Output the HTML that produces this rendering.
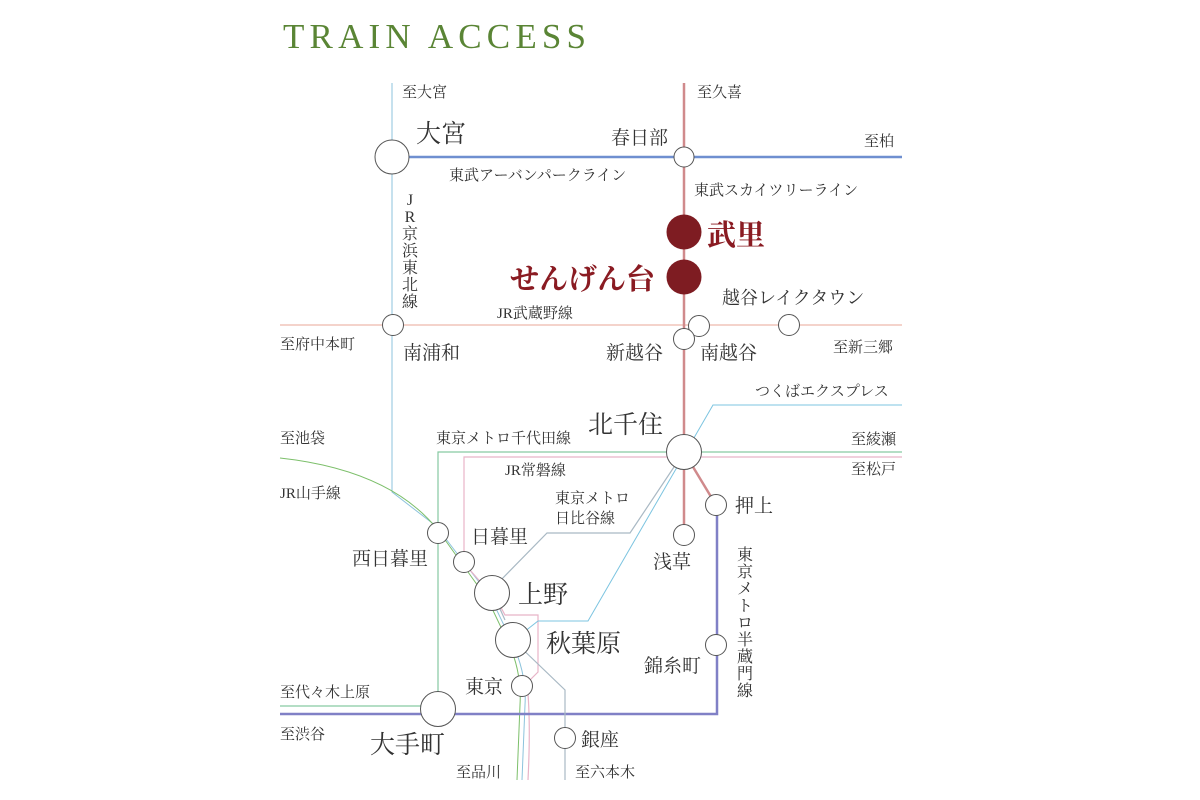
<!DOCTYPE html>
<html><head><meta charset="utf-8"><style>
html,body{margin:0;padding:0;background:#fff;}
svg{display:block;}
text{font-family:"Liberation Serif","Noto Serif CJK SC","Noto Sans CJK JP",serif;fill:#333;}
</style></head><body>
<svg width="1200" height="800" viewBox="0 0 1200 800" xmlns="http://www.w3.org/2000/svg">
<text x="283" y="48" font-size="35" style="fill:#5a8535" textLength="303" lengthAdjust="spacing">TRAIN ACCESS</text>

<g fill="none">
<line x1="280" y1="325" x2="902" y2="325" stroke="#f4d3cb" stroke-width="2"/>
<path d="M392,83 L392,492 L436,526 L462,560 L490,596 L512,642 Q527,675 525,705 L522,780" stroke="#8cc3dc" stroke-width="1"/>
<path d="M280,458 Q390,470 438,530 L463,565 L488,600 L508,642 Q522,672 520,705 L517,780" stroke="#7cbf6a" stroke-width="1"/>
<path d="M902,457 L464,457 L464,560 L470,570 L498,602 L505,615 L538,615 L538,672 L527,683 Q531,720 528,780" stroke="#e8b4c8" stroke-width="1.2"/>
<path d="M902,452 L438,452 L438,706 L280,706" stroke="#86c9a2" stroke-width="1.2"/>
<path d="M280,714 L717,714 L717,505" stroke="#8080c6" stroke-width="2.5"/>
<path d="M902,405 L713,405 L588,621 L538,621 L524,632" stroke="#7cc4e0" stroke-width="1"/>
<path d="M684,452 L630,533 L547,533 L496,585 M496,600 L505,620 M513,640 L565,690 L565,780" stroke="#a9b9c4" stroke-width="1.2"/>
<line x1="392" y1="157" x2="902" y2="157" stroke="#6f8fd0" stroke-width="2.5"/>
<path d="M684,83 L684,535 M684,452 L716,505" stroke="#d08a8c" stroke-width="2.5"/>
</g>

<g fill="#fff" stroke="#555" stroke-width="1">
<circle cx="392" cy="157" r="17"/>
<circle cx="684" cy="157" r="10"/>
<circle cx="393" cy="325" r="10.5"/>
<circle cx="699" cy="326" r="10.5"/>
<circle cx="684" cy="339" r="10.5"/>
<circle cx="789" cy="325" r="10.5"/>
<circle cx="684" cy="452" r="17.5"/>
<circle cx="716" cy="505" r="10.5"/>
<circle cx="684" cy="535" r="10.5"/>
<circle cx="438" cy="533" r="10.5"/>
<circle cx="464" cy="562" r="10.5"/>
<circle cx="492" cy="593" r="17.5"/>
<circle cx="513" cy="640" r="17.5"/>
<circle cx="522" cy="686" r="10.5"/>
<circle cx="716" cy="645" r="10.5"/>
<circle cx="438" cy="709" r="17.5"/>
<circle cx="565" cy="738" r="10.5"/>
</g>
<circle cx="684" cy="232" r="17.5" fill="#7e1c22"/>
<circle cx="684" cy="277" r="17.5" fill="#7e1c22"/>

<g font-size="15">
<text x="402" y="97">至大宮</text>
<text x="697" y="97">至久喜</text>
<text x="864" y="146">至柏</text>
<text x="611" y="144" font-size="19">春日部</text>
<text x="416" y="142" font-size="25">大宮</text>
<text x="449" y="180">東武アーバンパークライン</text>
<text x="694" y="195">東武スカイツリーライン</text>
<text x="497" y="318">JR武蔵野線</text>
<text x="722" y="304" font-size="18">越谷レイクタウン</text>
<text x="280" y="349">至府中本町</text>
<text x="403" y="359" font-size="19">南浦和</text>
<text x="606" y="359" font-size="19">新越谷</text>
<text x="700" y="359" font-size="19">南越谷</text>
<text x="833" y="352">至新三郷</text>
<text x="755" y="396">つくばエクスプレス</text>
<text x="588" y="433" font-size="25">北千住</text>
<text x="851" y="444">至綾瀬</text>
<text x="851" y="474">至松戸</text>
<text x="436" y="443">東京メトロ千代田線</text>
<text x="505" y="475">JR常磐線</text>
<text x="555" y="503">東京メトロ</text>
<text x="555" y="523">日比谷線</text>
<text x="280" y="443">至池袋</text>
<text x="280" y="498">JR山手線</text>
<text x="471" y="543" font-size="19">日暮里</text>
<text x="352" y="565" font-size="19">西日暮里</text>
<text x="735" y="512" font-size="19">押上</text>
<text x="653" y="568" font-size="19">浅草</text>
<text x="518" y="603" font-size="25">上野</text>
<text x="546" y="652" font-size="25">秋葉原</text>
<text x="644" y="672" font-size="19">錦糸町</text>
<text x="465" y="693" font-size="19">東京</text>
<text x="280" y="697">至代々木上原</text>
<text x="280" y="739">至渋谷</text>
<text x="370" y="753" font-size="25">大手町</text>
<text x="581" y="746" font-size="19">銀座</text>
<text x="456" y="777">至品川</text>
<text x="575" y="777">至六本木</text>
</g>
<g font-size="16" text-anchor="middle">
<text x="410" y="205">J</text><text x="410" y="222">R</text><text x="410" y="239">京</text><text x="410" y="256">浜</text><text x="410" y="273">東</text><text x="410" y="290">北</text><text x="410" y="307">線</text>
<text x="745" y="560">東</text><text x="745" y="577">京</text><text x="745" y="594">メ</text><text x="745" y="611">ト</text><text x="745" y="628">ロ</text><text x="745" y="645">半</text><text x="745" y="662">蔵</text><text x="745" y="679">門</text><text x="745" y="696">線</text>
</g>
<text x="707" y="245" font-size="29" font-weight="bold" style="fill:#8a1b22">武里</text>
<text x="510" y="289" font-size="29" font-weight="bold" style="fill:#8a1b22">せんげん台</text>
</svg>
</body></html>
